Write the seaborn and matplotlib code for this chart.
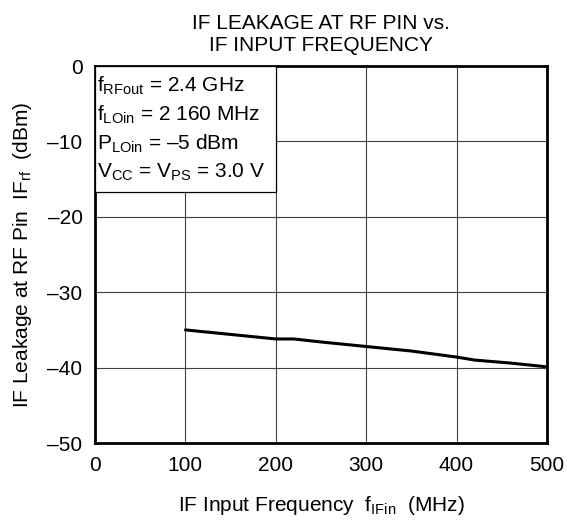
import matplotlib
matplotlib.use("Agg")
import matplotlib.pyplot as plt
import seaborn as sns
import pandas as pd
from matplotlib.patches import Rectangle

# values
freq_mhz = [100, 150, 200, 220, 250, 300, 350, 400, 420, 460, 500]
leakage_dbm = [-35.0, -35.6, -36.2, -36.2, -36.6, -37.2, -37.8, -38.6, -39.0, -39.4, -39.9]

x_ticks = [0, 100, 200, 300, 400, 500]
y_ticks = [0, -10, -20, -30, -40, -50]

conditions = [
    r"f$_{\mathregular{RFout}}$ = 2.4 GHz",
    r"f$_{\mathregular{LOin}}$ = 2 160 MHz",
    r"P$_{\mathregular{LOin}}$ = –5 dBm",
    r"V$_{\mathregular{CC}}$ = V$_{\mathregular{PS}}$ = 3.0 V",
]

sns.set_style("white")
plt.rcParams["font.family"] = ["Liberation Sans", "DejaVu Sans"]
plt.rcParams["mathtext.fontset"] = "custom"
plt.rcParams["mathtext.rm"] = "Liberation Sans"
plt.rcParams["mathtext.it"] = "Liberation Sans"
for key in ["text.color", "axes.labelcolor", "xtick.color", "ytick.color"]:
    plt.rcParams[key] = "black"

FS = 15

fig = plt.figure(figsize=(5.67, 5.21), dpi=100)
ax = fig.add_axes([0.1676, 0.1497, 0.797, 0.7236])

df = pd.DataFrame({"freq": freq_mhz, "leak": leakage_dbm})
sns.lineplot(data=df, x="freq", y="leak", ax=ax, color="black", linewidth=2.2, zorder=5)

ax.set_xlim(0, 500)
ax.set_ylim(-50, 0)
ax.set_xticks(x_ticks)
ax.set_yticks(y_ticks)
ax.set_yticklabels(["0" if v == 0 else "–%d" % -v for v in y_ticks])
ax.tick_params(axis="x", labelsize=FS, length=0, pad=9)
ax.tick_params(axis="y", labelsize=FS, length=0, pad=9)
ax.grid(True, color="black", linewidth=0.8, alpha=0.75)
for s in ax.spines.values():
    s.set_linewidth(2)
    s.set_color("black")

# condition box in the upper left corner, covering the grid
ax.add_patch(Rectangle((0, -16.7), 200, 16.7, facecolor="white", edgecolor="black",
                       linewidth=0.9, zorder=3))
for i, line in enumerate(conditions):
    ax.text(2, -3.45 - i * 3.8, line, fontsize=FS, va="baseline", ha="left", zorder=4)

ax.set_xlabel(r"IF Input Frequency  f$_{\mathregular{IFin}}$  (MHz)", fontsize=FS, labelpad=14)
ax.set_ylabel(r"IF Leakage at RF Pin  IF$_{\mathregular{rf}}$  (dBm)", fontsize=FS, labelpad=10)
ax.set_title("IF LEAKAGE AT RF PIN vs.\nIF INPUT FREQUENCY", fontsize=FS, pad=11, linespacing=1.2)

fig.savefig("out.png", dpi=100)
